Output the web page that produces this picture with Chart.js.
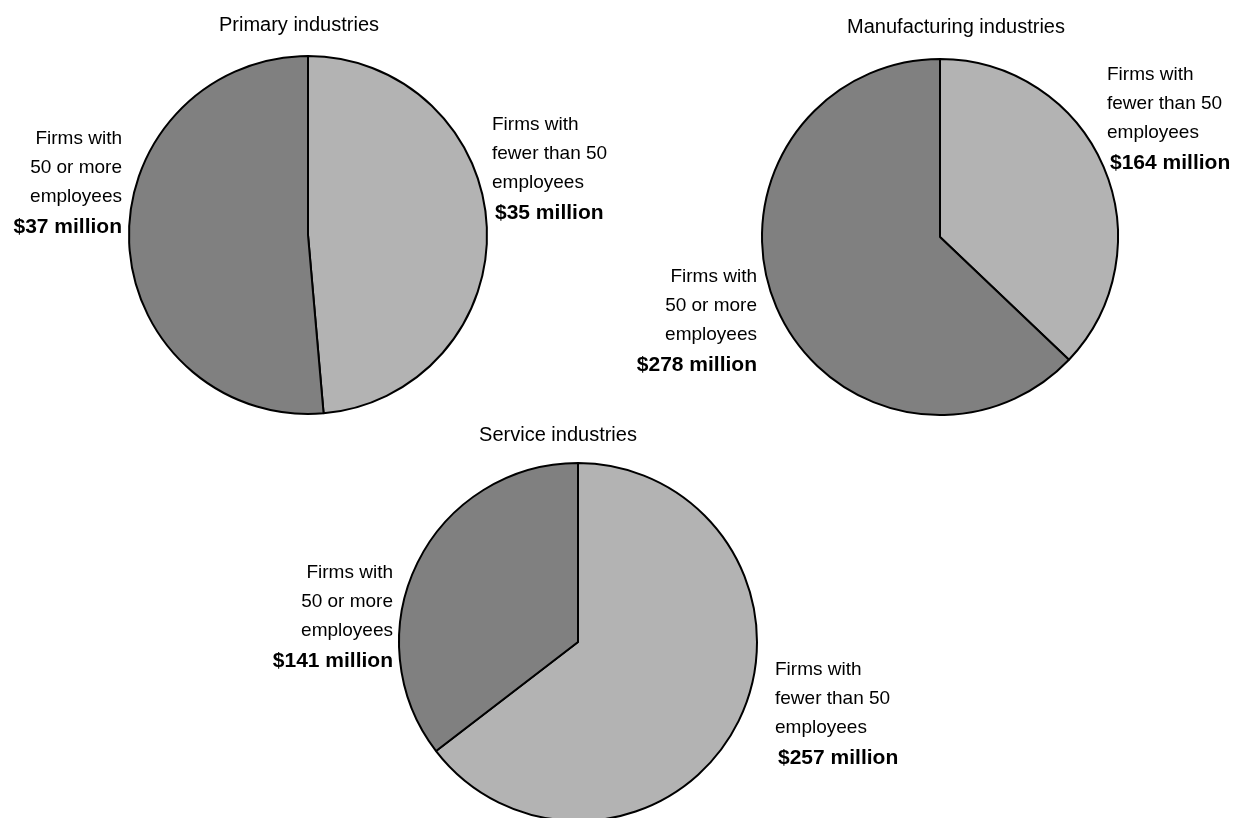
<!DOCTYPE html>
<html>
<head>
<meta charset="utf-8">
<title>Firm size by industry</title>
<script src="https://cdn.jsdelivr.net/npm/chart.js@4.4.1/dist/chart.umd.min.js"></script>
<style>
  html, body { margin: 0; padding: 0; background: #fff; overflow: hidden; }
  #wrap { position: relative; width: 1246px; height: 818px; }
  #wrap canvas { position: absolute; left: 0; top: 0; }
</style>
</head>
<body>
<div id="wrap">
  <canvas id="primary" width="1246" height="840"></canvas>
  <canvas id="manufacturing" width="1246" height="840"></canvas>
  <canvas id="service" width="1246" height="840"></canvas>
</div>
<script>
// ---- data ----
const industries = ['Primary industries', 'Manufacturing industries', 'Service industries'];
const fewerThan50 = [35, 164, 257];   // $ million
const fiftyOrMore = [37, 278, 141];   // $ million
const fewerLines = ['Firms with', 'fewer than 50', 'employees'];
const moreLines = ['Firms with', '50 or more', 'employees'];

const LIGHT = '#b3b3b3';
const DARK = '#808080';
const FONT = "'Liberation Sans', Arial, Helvetica, sans-serif";

// ---- layout: pie centre/radius, title offset, label placement ----
// label: side, dx from pie edge, dy of first line from centre
const layout = [
  { cx: 308, cy: 235, r: 179, titleDx: -9, titleY: 25,
    labels: [ { side: 'right', dx: 5, dy: -110 }, { side: 'left', dx: 7, dy: -96 } ] },
  { cx: 940, cy: 237, r: 178, titleDx: 16, titleY: 27,
    labels: [ { side: 'right', dx: -11, dy: -162 }, { side: 'left', dx: 5, dy: 40 } ] },
  { cx: 578, cy: 642, r: 179, titleDx: -20, titleY: 435,
    labels: [ { side: 'right', dx: 18, dy: 28 }, { side: 'left', dx: 6, dy: -69 } ] }
];

// draws the titles and the slice captions next to each pie
const captionPlugin = {
  id: 'captions',
  afterDraw(chart, args, opts) {
    const ctx = chart.ctx;
    const i = opts.index;
    const L = layout[i];
    const arcs = chart.getDatasetMeta(0).data;
    const x0 = arcs[0].x, y0 = arcs[0].y, R = arcs[0].outerRadius;
    ctx.save();
    ctx.fillStyle = '#000';
    ctx.textBaseline = 'middle';

    // title
    ctx.font = '20px ' + FONT;
    ctx.textAlign = 'center';
    ctx.fillText(industries[i], x0 + L.titleDx, L.titleY);

    const values = [fewerThan50[i], fiftyOrMore[i]];
    const lines = [fewerLines, moreLines];
    L.labels.forEach((lab, k) => {
      const right = lab.side === 'right';
      const x = right ? x0 + R + lab.dx : x0 - R - lab.dx;
      ctx.textAlign = right ? 'left' : 'right';
      ctx.font = '19px ' + FONT;
      lines[k].forEach((t, j) => {
        ctx.fillText(t, x, y0 + lab.dy + j * 29);
      });
      ctx.font = 'bold 21px ' + FONT;
      ctx.fillText('$' + values[k] + ' million', x + (right ? 3 : 0), y0 + lab.dy + 3 * 29 + 1);
    });
    ctx.restore();
  }
};

function makePie(id, i) {
  const L = layout[i];
  const W = 1246, H = 840;
  const half = L.r + 1;
  new Chart(document.getElementById(id), {
    type: 'pie',
    data: {
      labels: ['Firms with fewer than 50 employees', 'Firms with 50 or more employees'],
      datasets: [{
        data: [fewerThan50[i], fiftyOrMore[i]],
        backgroundColor: [LIGHT, DARK],
        borderColor: '#000',
        borderWidth: 2
      }]
    },
    options: {
      responsive: false,
      animation: false,
      devicePixelRatio: 1,
      layout: {
        padding: {
          left: L.cx - half,
          top: L.cy - half,
          right: W - (L.cx + half),
          bottom: H - (L.cy + half)
        }
      },
      plugins: {
        legend: { display: false },
        tooltip: { enabled: false },
        captions: { index: i }
      }
    },
    plugins: [captionPlugin]
  });
}

makePie('primary', 0);
makePie('manufacturing', 1);
makePie('service', 2);
</script>
</body>
</html>
